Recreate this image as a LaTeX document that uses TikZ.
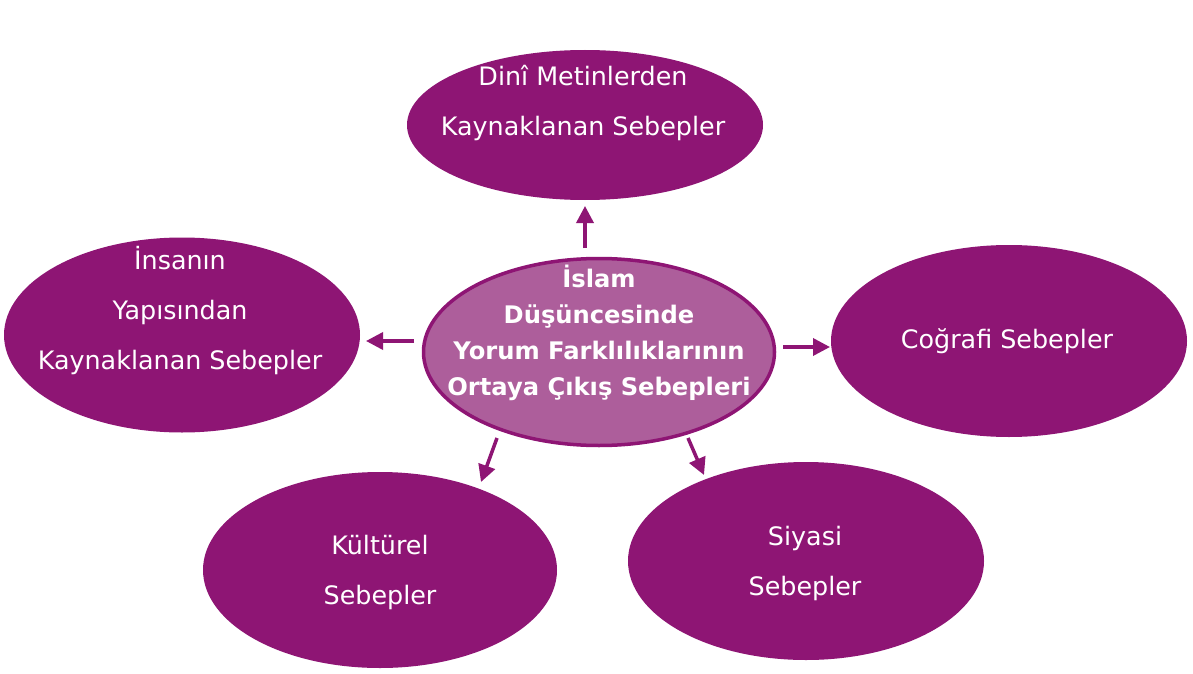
\documentclass[tikz,border=0pt]{standalone}
\usepackage{fontspec}
\setmainfont{DejaVu Sans}
\usetikzlibrary{shapes.geometric,arrows.meta}
\definecolor{dpurple}{HTML}{8E1574}
\definecolor{lpurple}{HTML}{AD5E9B}
\tikzset{
  outer/.style={ellipse, fill=dpurple, draw=none, inner sep=0pt},
  inner/.style={ellipse, fill=lpurple, draw=dpurple, line width=3.5pt, inner sep=0pt},
  lbl/.style={text=white, font=\fontsize{25.4}{50}\selectfont, align=center, inner sep=0pt},
  clbl/.style={text=white, font=\bfseries\fontsize{24.2}{36}\selectfont, align=center, inner sep=0pt},
  arr/.style={draw=dpurple, line width=3.5pt, -{Triangle[length=17pt,width=17pt]}}
}
\begin{document}
\begin{tikzpicture}[x=1pt,y=-1pt]
\useasboundingbox (0,0) rectangle (1193,674);
\fill[white] (0,0) rectangle (1193,674);
% ellipses
\node[outer, minimum width=356pt, minimum height=150pt] (top) at (585,125) {};
\node[outer, minimum width=356pt, minimum height=195pt] (left) at (182,335) {};
\node[outer, minimum width=356pt, minimum height=192pt] (right) at (1009,341) {};
\node[outer, minimum width=354pt, minimum height=196pt] (bl) at (380,570) {};
\node[outer, minimum width=356pt, minimum height=198pt] (br) at (806,561) {};
\node[inner, minimum width=351pt, minimum height=187pt] (c) at (599,352) {};
% labels
\node[lbl] (ttop) at (583,103) {Dinî Metinlerden\\Kaynaklanan Sebepler};
\node[lbl] (tleft) at (180,311) {İnsanın\\Yapısından\\Kaynaklanan Sebepler};
\node[lbl] (tright) at (1007,341) {Coğrafi Sebepler};
\node[lbl] (tbl) at (380,572) {Kültürel\\Sebepler};
\node[lbl] (tbr) at (805,563) {Siyasi\\Sebepler};
\node[clbl] (tc) at (599,333) {İslam\\Düşüncesinde\\Yorum Farklılıklarının\\Ortaya Çıkış Sebepleri};
% arrow endpoints
\coordinate (a1s) at (585,248); \coordinate (a1e) at (585,206);
\coordinate (a2s) at (414,341); \coordinate (a2e) at (366,341);
\coordinate (a3s) at (783,347); \coordinate (a3e) at (830,347);
\coordinate (a4s) at (497,438); \coordinate (a4e) at (481,482);
\coordinate (a5s) at (688,438); \coordinate (a5e) at (704,475);
\draw[arr] (a1s) -- (a1e);
\draw[arr] (a2s) -- (a2e);
\draw[arr] (a3s) -- (a3e);
\draw[arr] (a4s) -- (a4e);
\draw[arr] (a5s) -- (a5e);
\end{tikzpicture}
\end{document}
